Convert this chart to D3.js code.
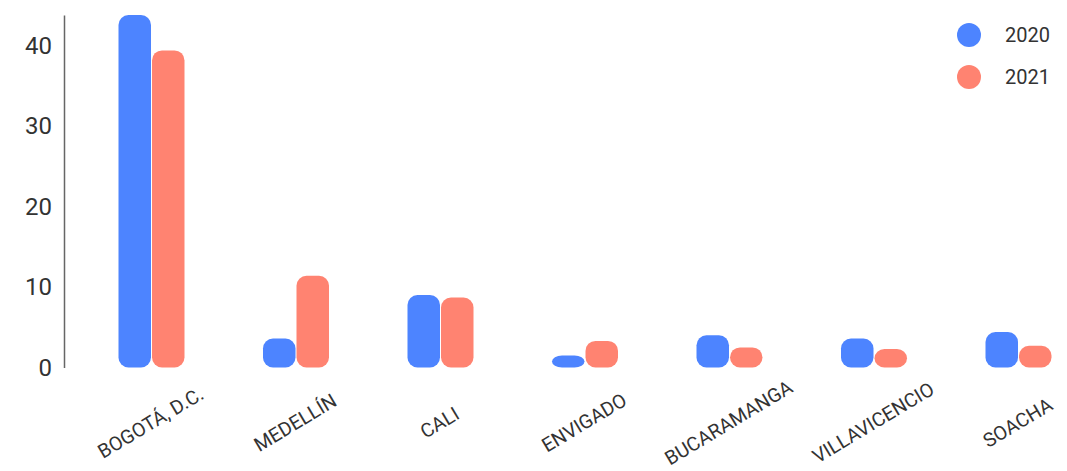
<!DOCTYPE html>
<html>
<head>
<meta charset="utf-8">
<script src="https://cdn.jsdelivr.net/npm/d3@7"></script>
<style>
  html, body { margin: 0; padding: 0; background: #fff; }
  svg { display: block; font-family: Roboto, "Noto Sans", sans-serif; }
</style>
</head>
<body>
<svg id="chart" width="1067" height="471"></svg>
<script>
const categories = ["BOGOTÁ, D.C.", "MEDELLÍN", "CALI", "ENVIGADO", "BUCARAMANGA", "VILLAVICENCIO", "SOACHA"];
const seriesNames = ["2020", "2021"];
const values2020 = [43.8, 3.6, 9.0, 1.5, 4.0, 3.6, 4.4];
const values2021 = [39.4, 11.4, 8.7, 3.3, 2.5, 2.3, 2.7];
const yTicks = [0, 10, 20, 30, 40];
const colors = ["#4d84ff", "#ff8371"];

const svg = d3.select("#chart");
const seriesValues = [values2020, values2021];

const x0 = d3.scaleBand()
  .domain(categories)
  .range([79.25, 1090.75])
  .paddingInner(0.5363)
  .paddingOuter(0.26815);

const x1 = d3.scaleBand()
  .domain(seriesNames)
  .range([0, x0.bandwidth()])
  .padding(0);

const y = d3.scaleLinear()
  .domain([0, d3.max(values2020.concat(values2021))])
  .range([367.5, 15]);

const color = d3.scaleOrdinal().domain(seriesNames).range(colors);

// Y axis
const yAxis = d3.axisLeft(y).tickValues(yTicks).tickSize(0).tickPadding(12).tickFormat(d3.format("d"));
const yg = svg.append("g").attr("transform", "translate(64,0)").call(yAxis);
yg.select(".domain").attr("stroke", "#666").attr("stroke-width", 1.5);
yg.selectAll("text").attr("font-size", 24).attr("fill", "#333").attr("font-family", "Roboto, sans-serif");

// Bars
const groups = svg.append("g").selectAll("g")
  .data(categories)
  .join("g")
  .attr("transform", d => `translate(${x0(d)},0)`);

groups.selectAll("rect")
  .data((d, i) => seriesNames.map((s, j) => ({ s, v: seriesValues[j][i] })))
  .join("rect")
  .attr("x", d => x1(d.s) + 0.5)
  .attr("width", x1.bandwidth() - 1)
  .attr("y", d => y(d.v))
  .attr("height", d => y(0) - y(d.v))
  .attr("rx", 10)
  .attr("fill", d => color(d.s));

// X labels
svg.append("g").selectAll("text")
  .data(categories)
  .join("text")
  .attr("transform", d => `translate(${x0(d) + x0.bandwidth() / 2},424) rotate(-31)`)
  .attr("text-anchor", "middle")
  .attr("dominant-baseline", "middle")
  .attr("font-size", 19.5)
  .attr("fill", "#333")
  .text(d => d);

// Legend
const legend = svg.append("g").selectAll("g")
  .data(seriesNames)
  .join("g")
  .attr("transform", (d, i) => `translate(969,${35 + i * 42})`);
legend.append("circle").attr("r", 12).attr("fill", d => color(d));
legend.append("text")
  .attr("x", 36)
  .attr("dy", "0.35em")
  .attr("font-size", 20)
  .attr("fill", "#333")
  .text(d => d);
</script>
</body>
</html>
